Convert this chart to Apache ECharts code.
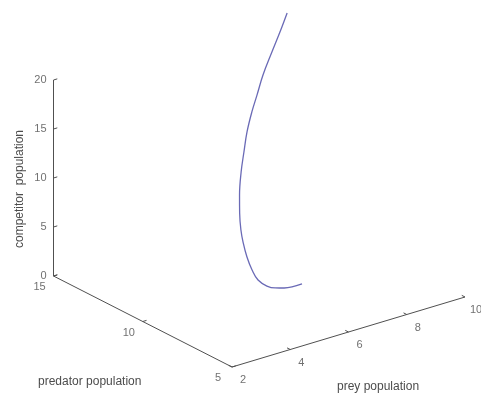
<!DOCTYPE html>
<html>
<head>
<meta charset="utf-8">
<script src="https://cdn.jsdelivr.net/npm/echarts@6/dist/echarts.min.js"></script>
<style>
  html, body { margin: 0; padding: 0; background: #fff; }
  #chart { width: 481px; height: 400px; }
</style>
</head>
<body>
<div id="chart"></div>
<script>
// Trajectory of the three-species model (prey, predator, competitor)
const prey       = [9.96, 9.53, 9.07, 8.58, 8.19, 7.83, 7.48, 7.19, 6.91, 6.61, 6.43, 6.29, 6.21, 6.13, 6.06, 6.02, 6.11, 6.24, 6.45, 6.67, 7.02];
const predator   = [14.9, 14.6, 14.3, 14.0, 13.7, 13.4, 13.1, 12.8, 12.5, 12.1, 11.8, 11.5, 11.25, 10.9, 10.5, 10.1, 9.75, 9.50, 9.34, 9.26, 9.27];
const competitor = [19.83, 18.54, 17.19, 15.56, 14.14, 13.02, 11.57, 10.06, 8.55, 6.84, 5.45, 4.11, 3.19, 2.06, 1.17, 0.55, 0.18, 0.10, 0.06, 0.04, 0.03];

// Axis ranges and tick values
const preyTicks = [2, 4, 6, 8, 10];
const predatorTicks = [5, 10, 15];
const competitorTicks = [0, 5, 10, 15, 20];

const PREY_MIN = 2, PREY_MAX = 10;
const PRED_MIN = 5, PRED_MAX = 15;
const COMP_MIN = 0, COMP_MAX = 20;

// Oblique 3-D view: front corner (prey min, predator min, competitor min)
// and one step along each data axis, expressed in plane units.
const ORIGIN = [232, 367];
const PREY_STEP = [29.125, -8.75];
const PRED_STEP = [-17.85, -9.1];
const COMP_STEP = [0, -9.8];

function proj(px, pd, c) {
  const a = px - PREY_MIN, b = pd - PRED_MIN, z = c - COMP_MIN;
  return [
    ORIGIN[0] + a * PREY_STEP[0] + b * PRED_STEP[0] + z * COMP_STEP[0],
    ORIGIN[1] + a * PREY_STEP[1] + b * PRED_STEP[1] + z * COMP_STEP[1]
  ];
}

const curve = prey.map((v, i) => proj(v, predator[i], competitor[i]));

// Axis lines of the box
const axisLines = [
  { coords: [proj(PREY_MIN, PRED_MAX, COMP_MIN), proj(PREY_MIN, PRED_MAX, COMP_MAX)] },
  { coords: [proj(PREY_MIN, PRED_MAX, COMP_MIN), proj(PREY_MIN, PRED_MIN, COMP_MIN)] },
  { coords: [proj(PREY_MIN, PRED_MIN, COMP_MIN), proj(PREY_MAX, PRED_MIN, COMP_MIN)] }
];

// Tick marks
const TICK_PREY = 0.13, TICK_PRED = 0.18;
const tickLines = [];
competitorTicks.forEach(t => tickLines.push({ coords: [proj(PREY_MIN, PRED_MAX, t), proj(PREY_MIN + TICK_PREY, PRED_MAX, t)] }));
predatorTicks.forEach(t => tickLines.push({ coords: [proj(PREY_MIN, t, COMP_MIN), proj(PREY_MIN + TICK_PREY, t, COMP_MIN)] }));
preyTicks.forEach(t => tickLines.push({ coords: [proj(t, PRED_MIN, COMP_MIN), proj(t, PRED_MIN + TICK_PRED, COMP_MIN)] }));

// Tick labels
const TEXT_COLOR = '#4c4c4c';
const FONT = 'Liberation Sans, Arial, sans-serif';
const tickLabels = [];
competitorTicks.forEach(t => tickLabels.push({ value: proj(PREY_MIN, PRED_MAX, t), name: String(t), label: { offset: [-7, 0], align: 'right' } }));
predatorTicks.forEach(t => tickLabels.push({ value: proj(PREY_MIN, t, COMP_MIN), name: String(t), label: { offset: [-14, 11] } }));
preyTicks.forEach(t => tickLabels.push({ value: proj(t, PRED_MIN, COMP_MIN), name: String(t), label: { offset: [11, 13] } }));

const chart = echarts.init(document.getElementById('chart'), null, { renderer: 'canvas' });
chart.setOption({
  animation: false,
  backgroundColor: '#ffffff',
  grid: { left: 0, right: 0, top: 0, bottom: 0 },
  xAxis: { type: 'value', min: 0, max: 481, show: false },
  yAxis: { type: 'value', min: 0, max: 400, inverse: true, show: false },
  series: [
    {
      type: 'lines',
      coordinateSystem: 'cartesian2d',
      silent: true,
      lineStyle: { color: '#505050', width: 1, opacity: 1 },
      data: axisLines
    },
    {
      type: 'lines',
      coordinateSystem: 'cartesian2d',
      silent: true,
      lineStyle: { color: '#505050', width: 1, opacity: 1 },
      data: tickLines
    },
    {
      type: 'scatter',
      silent: true,
      symbolSize: 0,
      label: {
        show: true, position: 'inside', formatter: '{b}',
        align: 'center', verticalAlign: 'middle',
        fontFamily: FONT, fontSize: 11, color: TEXT_COLOR
      },
      data: tickLabels
    },
    {
      type: 'line',
      silent: true,
      smooth: 0.4,
      symbol: 'none',
      lineStyle: { color: '#6a6ab6', width: 1.3 },
      data: curve
    }
  ],
  graphic: [
    {
      type: 'text', left: 38, top: 376,
      style: { text: 'predator population', fill: TEXT_COLOR, font: '12px ' + FONT }
    },
    {
      type: 'text', left: 337, top: 381,
      style: { text: 'prey population', fill: TEXT_COLOR, font: '12px ' + FONT }
    },
    {
      type: 'text', x: 20, y: 189, rotation: Math.PI / 2,
      style: { text: 'competitor  population', fill: TEXT_COLOR, font: '12px ' + FONT, align: 'center', verticalAlign: 'middle' }
    }
  ]
});
</script>
</body>
</html>
